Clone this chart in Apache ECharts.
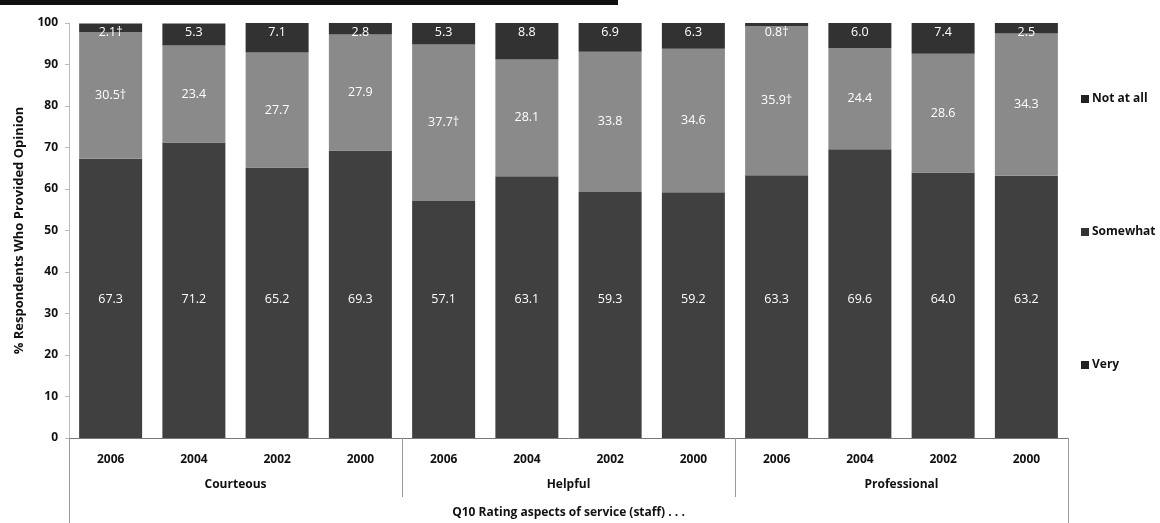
<!DOCTYPE html>
<html>
<head>
<meta charset="utf-8">
<script src="https://cdn.jsdelivr.net/npm/echarts@6/dist/echarts.min.js"></script>
<style>
  html, body { margin: 0; padding: 0; background: #ffffff; }
  #chart { width: 1160px; height: 523px; }
</style>
</head>
<body>
<div id="chart"></div>
<script>
// Q10 staff service ratings by survey year
const groups = ['Courteous', 'Helpful', 'Professional'];
const categories = ['2006', '2004', '2002', '2000', '2006', '2004', '2002', '2000', '2006', '2004', '2002', '2000'];

const very      = [67.3, 71.2, 65.2, 69.3, 57.1, 63.1, 59.3, 59.2, 63.3, 69.6, 64.0, 63.2];
const somewhat  = [30.5, 23.4, 27.7, 27.9, 37.7, 28.1, 33.8, 34.6, 35.9, 24.4, 28.6, 34.3];
const notAtAll  = [2.1, 5.3, 7.1, 2.8, 5.3, 8.8, 6.9, 6.3, 0.8, 6.0, 7.4, 2.5];

// values marked with a dagger in the labels
const somewhatFlag = [true, false, false, false, true, false, false, false, true, false, false, false];
const notAtAllFlag = [true, false, false, false, false, false, false, false, true, false, false, false];

const yTicks = ['0', '10', '20', '30', '40', '50', '60', '70', '80', '90', '100'];
const axisTitle = 'Q10 Rating aspects of service (staff) . . .';
const yTitle = '% Respondents Who Provided Opinion';

const FONT = 'Open Sans';
const chart = echarts.init(document.getElementById('chart'), null, { renderer: 'canvas' });

function labelFor(flags) {
  return function (p) {
    return p.value.toFixed(1) + (flags && flags[p.dataIndex] ? '\u2020' : '');
  };
}

const labelStyle = { color: '#ffffff', fontFamily: FONT, fontSize: 12.5 };
const axisText = { fontFamily: FONT, fontSize: 12, fontWeight: 'bold', color: '#111' };

chart.setOption({
  animation: false,
  backgroundColor: '#ffffff',
  grid: { left: 69, right: 92, top: 23, bottom: 85, containLabel: false },
  legend: {
    orient: 'vertical',
    left: 1076,
    top: 88,
    itemWidth: 8,
    itemHeight: 8,
    itemGap: 121,
    icon: 'rect',
    textStyle: { fontFamily: FONT, fontSize: 12, color: '#111', fontWeight: 'bold', padding: [0, 0, 0, -2] },
    data: [
      { name: 'Not at all', itemStyle: { color: '#222222' } },
      { name: 'Somewhat', itemStyle: { color: '#333333' } },
      { name: 'Very', itemStyle: { color: '#222222' } }
    ]
  },
  xAxis: [
    {
      type: 'category',
      data: categories,
      position: 'bottom',
      axisLine: { show: true, lineStyle: { color: '#777', width: 1 } },
      axisTick: { show: false },
      axisLabel: Object.assign({ margin: 16 }, axisText)
    },
    {
      type: 'category',
      data: groups,
      position: 'bottom',
      axisLine: { show: false },
      axisTick: { show: true, length: 59, lineStyle: { color: '#999', width: 1 } },
      axisLabel: Object.assign({ margin: 41 }, axisText)
    },
    {
      type: 'category',
      data: [axisTitle],
      position: 'bottom',
      axisLine: { show: false },
      axisTick: { show: true, length: 86, lineStyle: { color: '#999', width: 1 } },
      axisLabel: Object.assign({ margin: 69 }, axisText)
    }
  ],
  yAxis: {
    type: 'value',
    min: 0,
    max: 100,
    interval: 10,
    name: yTitle,
    nameLocation: 'middle',
    nameGap: 43,
    nameTextStyle: { fontFamily: FONT, fontSize: 13, fontWeight: 'bold', color: '#111' },
    axisLine: { show: true, lineStyle: { color: '#bbb', width: 1 } },
    axisTick: { show: true, length: 4, lineStyle: { color: '#bbb' } },
    splitLine: { show: false },
    axisLabel: Object.assign({
      margin: 11,
      formatter: function (v) { return yTicks[Math.round(v / 10)]; }
    }, axisText)
  },
  series: [
    {
      name: 'Very', type: 'bar', stack: 'all', xAxisIndex: 0, data: very,
      barWidth: 63,
      itemStyle: { color: '#404040' },
      label: Object.assign({ show: true, position: 'insideBottom', distance: 132, formatter: labelFor(null) }, labelStyle)
    },
    {
      name: 'Somewhat', type: 'bar', stack: 'all', xAxisIndex: 0, data: somewhat,
      barWidth: 63,
      itemStyle: { color: '#8a8a8a' },
      label: Object.assign({ show: true, position: 'inside', formatter: labelFor(somewhatFlag) }, labelStyle)
    },
    {
      name: 'Not at all', type: 'bar', stack: 'all', xAxisIndex: 0, data: notAtAll,
      barWidth: 63,
      itemStyle: { color: '#323232' },
      label: Object.assign({ show: true, position: 'insideTop', distance: 3, formatter: labelFor(notAtAllFlag) }, labelStyle)
    }
  ],
  graphic: [
    { type: 'rect', left: 0, top: 0, shape: { width: 618, height: 5 }, style: { fill: '#111' }, silent: true }
  ]
});
</script>
</body>
</html>
